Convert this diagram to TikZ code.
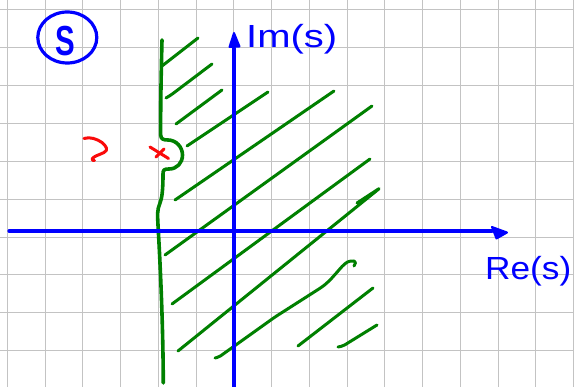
\documentclass[tikz,border=0pt]{standalone}
\usepackage{fontspec}
\usepackage{graphicx}
\newfontfamily\handfont{Liberation Sans}
\definecolor{hgreen}{RGB}{0,128,0}
\definecolor{hblue}{RGB}{0,0,255}
\definecolor{hred}{RGB}{250,10,10}
\definecolor{gridgray}{RGB}{195,195,195}
\tikzset{
  gridline/.style={draw=gridgray, line width=1pt},
  axisline/.style={draw=hblue, line width=3.2pt, line cap=round},
  tipshape/.style={fill=hblue, draw=hblue, line width=2pt, line join=round},
  border/.style={draw=hgreen, line width=3.6pt, line cap=round, line join=round},
  hatch/.style={draw=hgreen, line width=3pt, line cap=round, line join=round, rounded corners=2pt},
  redmark/.style={draw=hred, line width=3pt, line cap=round, line join=round},
  handlabel/.style={text=hblue, font=\handfont\fontsize{32}{32}\selectfont, inner sep=0pt}
}
\begin{document}
\begin{tikzpicture}[x=1pt,y=-1pt]
\useasboundingbox (0,0) rectangle (574,387);
\fill[white] (0,0) rectangle (574,387);
% grid
\foreach \k in {0,...,15}
  \draw[gridline] ({7.25+37.75*\k},0) -- ({7.25+37.75*\k},387);
\foreach \k in {0,...,10}
  \draw[gridline] (0,{10+37.85*\k}) -- (574,{10+37.85*\k});

% hatch lines
\draw[hatch] (162,66) -- (198,38);
\draw[hatch] (166,98) -- (171,95) -- (212,64);
\draw[hatch] (176,124) -- (222,90);
\draw[hatch] (187,146) -- (268,92);
\draw[hatch] (175,200) -- (334,91);
\draw[hatch] (165,255) -- (372,106);
\draw[hatch] (172,304) -- (370,159);
\draw[hatch] (178,351) -- (380,188) -- (357,203);
\draw[hatch] (215,358) -- (219,357) -- (275,317) -- (322,287)
   .. controls (336,276) and (343,262) .. (352,261) .. controls (356,261) and (356,264) .. (354,266);
\draw[hatch] (298,346) -- (373,288);
\draw[hatch] (338,347) -- (343,346) -- (377,325);

% boundary
\draw[border] (162,40) .. controls (161,80) and (160.5,110) .. (160.7,135)
  .. controls (161,139) and (163,140) .. (168,140)
  .. controls (176,140) and (182.5,147) .. (182.5,155)
  .. controls (182.5,163) and (177,169) .. (169,169)
  .. controls (164,169) and (163,170) .. (163,174)
  .. controls (163,190) and (162,198) .. (160,203)
  .. controls (157,210) and (157.5,215) .. (158,225)
  .. controls (160,260) and (163,320) .. (163.3,383);

% axes
\coordinate (imB) at (234,387);
\coordinate (imT) at (234,48);
\coordinate (reL) at (9,231);
\coordinate (reR) at (492,231);
\draw[axisline] (imB) -- (imT);
\draw[axisline] (reL) -- (reR);
\draw[tipshape] (234,33) -- (229.5,47) -- (239.5,46.5) -- cycle;
\draw[tipshape] (492,227) -- (507,232.5) -- (496.5,238.5) -- cycle;

% labels
\node[handlabel, anchor=base west] (imlabel) at (246,48) {\scalebox{1.25}[1]{Im(s)}};
\node[handlabel, anchor=base west] (relabel) at (485,280) {\scalebox{1.1}[1]{Re(s)}};
\node[handlabel, font=\handfont\bfseries\fontsize{42}{42}\selectfont, anchor=base] (slabel) at (65.5,55.5) {\scalebox{0.7}[1]{S}};
\draw[draw=hblue, line width=3.2pt] (67.3,37.5) ellipse [x radius=29.5, y radius=25.5];

% red marks
\draw[redmark] (150,147) -- (168.5,158.5);
\draw[redmark] (156,157) -- (164,149);
\draw[redmark] (84,138.5) .. controls (90,136.5) and (97,139) .. (102,142.5)
  .. controls (106,146) and (109,150) .. (104,152.5)
  .. controls (99,155) and (93,156.5) .. (92,159) .. controls (92,160.5) and (93.5,160.5) .. (94.5,160.5);
\end{tikzpicture}
\end{document}
